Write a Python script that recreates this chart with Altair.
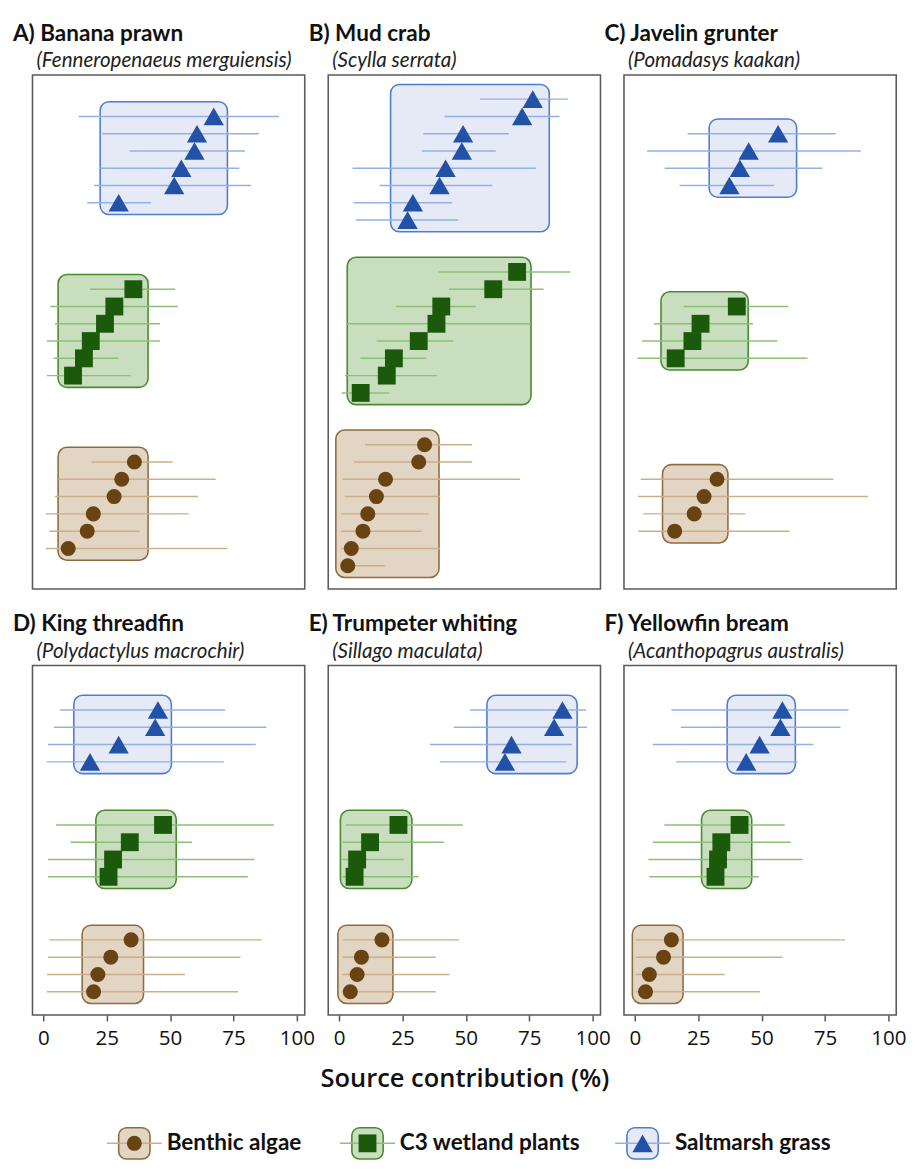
import altair as alt
import pandas as pd

SOURCES = ["Saltmarsh grass", "C3 wetland plants", "Benthic algae"]
LEGEND_ORDER = ["Benthic algae", "C3 wetland plants", "Saltmarsh grass"]
MARKER_COLORS = ["#2152a8", "#1c5a0b", "#6a4312"]
LINE_COLORS = ["#93b1e3", "#8cc076", "#cbaf8a"]
BOX_FILLS = ["#e5eaf6", "#c9ddbf", "#e3d5c3"]
BOX_STROKES = ["#4f7dcd", "#4a8a30", "#8e6c40"]
SHAPES = ["triangle-up", "square", "circle"]
SIZES = [430, 235, 250]
LEGEND_SIZES = [480, 400, 380]

# ---- Panel A: Banana prawn (values top to bottom) ----
A_SALT = [67.2, 60.6, 59.6, 54.4, 51.6, 29.7]
A_SALT_LO = [13.9, 23.2, 34.0, 22.0, 20.0, 17.3]
A_SALT_HI = [93.0, 85.0, 79.5, 77.3, 82.0, 42.4]
A_C3 = [35.5, 28.0, 24.3, 18.7, 16.0, 11.7]
A_C3_LO = [18.5, 2.7, 4.6, 1.4, 4.0, 1.4]
A_C3_HI = [52.0, 53.0, 46.0, 46.0, 29.6, 34.4]
A_BA = [35.9, 30.9, 27.9, 19.7, 17.3, 9.8]
A_BA_LO = [19.0, 5.9, 4.6, 0.9, 2.3, 0.9]
A_BA_HI = [51.0, 68.0, 61.0, 57.3, 38.0, 72.6]
A_BOX_LO = [22.4, 5.8, 5.8]
A_BOX_HI = [72.6, 41.3, 41.3]

# ---- Panel B: Mud crab ----
B_SALT = [76.4, 72.2, 48.9, 48.4, 42.0, 39.6, 29.1, 27.0]
B_SALT_LO = [55.5, 41.6, 33.2, 32.7, 5.3, 16.0, 5.7, 6.6]
B_SALT_HI = [90.2, 87.0, 66.9, 61.8, 77.7, 60.4, 44.5, 47.0]
B_C3 = [70.2, 60.8, 40.3, 38.4, 31.4, 21.6, 18.8, 8.5]
B_C3_LO = [39.1, 43.4, 22.4, 2.8, 14.8, 8.4, 2.3, 1.0]
B_C3_HI = [91.2, 80.6, 53.9, 75.7, 45.0, 34.4, 38.5, 19.8]
B_BA = [33.7, 31.4, 18.3, 14.7, 11.3, 9.4, 4.8, 3.4]
B_BA_LO = [10.2, 5.9, 1.3, 2.2, 0.8, 0.8, 0.8, 0.8]
B_BA_HI = [52.5, 52.5, 71.3, 39.9, 35.3, 32.5, 39.9, 18.0]
B_BOX_LO = [20.3, 3.2, -1.3]
B_BOX_HI = [82.9, 75.7, 39.4]

# ---- Panel C: Javelin grunter ----
C_SALT = [56.5, 44.9, 41.4, 37.3]
C_SALT_LO = [20.8, 4.8, 11.8, 17.6]
C_SALT_HI = [79.2, 89.1, 74.0, 55.0]
C_C3 = [40.2, 25.9, 22.7, 16.1]
C_C3_LO = [19.3, 7.5, 2.8, 1.0]
C_C3_HI = [60.5, 46.6, 56.2, 68.1]
C_BA = [32.4, 27.3, 23.4, 15.7]
C_BA_LO = [2.3, 1.3, 3.2, 1.3]
C_BA_HI = [78.3, 91.9, 43.7, 61.0]
C_BOX_LO = [29.3, 10.3, 10.9]
C_BOX_HI = [63.8, 44.7, 36.7]

# ---- Panel D: King threadfin ----
D_SALT = [45.2, 44.1, 29.7, 18.4]
D_SALT_LO = [6.6, 4.2, 1.8, 1.4]
D_SALT_HI = [71.7, 88.0, 83.8, 71.2]
D_C3 = [47.2, 34.1, 27.5, 25.7]
D_C3_LO = [5.0, 10.7, 1.8, 1.8]
D_C3_HI = [90.9, 58.6, 83.3, 80.6]
D_BA = [34.6, 26.6, 21.5, 19.8]
D_BA_LO = [2.3, 1.8, 1.4, 1.4]
D_BA_HI = [86.2, 77.7, 55.9, 76.8]
D_BOX_LO = [12.0, 20.7, 15.3]
D_BOX_HI = [50.5, 52.4, 39.5]

# ---- Panel E: Trumpeter whiting ----
E_SALT = [88.1, 84.8, 68.0, 65.4]
E_SALT_LO = [51.7, 45.2, 35.8, 39.7]
E_SALT_HI = [97.4, 97.8, 91.8, 89.6]
E_C3 = [23.4, 12.2, 7.1, 6.1]
E_C3_LO = [2.7, 1.3, 1.3, 1.3]
E_C3_HI = [48.8, 41.3, 25.5, 31.4]
E_BA = [16.9, 8.8, 7.1, 4.4]
E_BA_LO = [1.5, 1.3, 1.3, 1.3]
E_BA_HI = [47.4, 38.1, 43.6, 38.1]
E_BOX_LO = [58.3, 0.5, -0.5]
E_BOX_HI = [93.9, 28.7, 21.2]

# ---- Panel F: Yellowfin bream ----
F_SALT = [58.2, 57.4, 49.2, 43.9]
F_SALT_LO = [14.4, 18.1, 7.1, 16.3]
F_SALT_HI = [84.3, 81.1, 70.4, 64.2]
F_C3 = [41.3, 34.1, 32.8, 31.8]
F_C3_LO = [11.6, 7.1, 5.3, 5.7]
F_C3_HI = [59.1, 61.5, 66.1, 48.9]
F_BA = [14.4, 11.3, 5.7, 4.2]
F_BA_LO = [0.3, 0.3, 0.3, 0.3]
F_BA_HI = [82.9, 58.2, 35.4, 49.4]
F_BOX_LO = [36.4, 26.3, -1.0]
F_BOX_HI = [63.3, 46.1, 19.0]

TICKS = [0, 25, 50, 75, 100]
X_DOMAIN = [-4.3, 103.1]
ROW1_Y = [-2.4, 27.35]
ROW2_Y = [-1.58, 18.65]
ROW1_CENTERS = [2.5, 12.5, 22.5]
ROW2_CENTERS = [2.5, 9.15, 15.8]
PANEL_W = 278
ROW1_H = 525
ROW2_H = 357


def frames(mids, los, his, blo, bhi, centers):
    pts, boxes = [], []
    for s, src in enumerate(SOURCES):
        n = len(mids[s])
        slots = [centers[s] + i - (n - 1) / 2 for i in range(n)]
        for i in range(n):
            pts.append({"source": src, "mid": mids[s][i], "lo": los[s][i],
                        "hi": his[s][i], "slot": slots[i]})
        boxes.append({"source": src, "box_lo": blo[s], "box_hi": bhi[s],
                      "top": slots[0], "bottom": slots[-1]})
    return pd.DataFrame(pts), pd.DataFrame(boxes)


def panel(name, latin, mids, los, his, blo, bhi, row, axis_title=None, show_axis=False):
    centers = ROW1_CENTERS if row == 1 else ROW2_CENTERS
    ydom = ROW1_Y if row == 1 else ROW2_Y
    height = ROW1_H if row == 1 else ROW2_H
    data, box = frames(mids, los, his, blo, bhi, centers)
    xs = alt.Scale(domain=X_DOMAIN, nice=False, zero=False)
    ys = alt.Scale(domain=ydom, nice=False, zero=False, reverse=True)
    if show_axis:
        xaxis = alt.Axis(values=TICKS, title=axis_title, grid=False, domain=False,
                         ticks=True, tickSize=6, tickWidth=1.5, tickColor="#555555",
                         labelFont="Open Sans", labelFontSize=21, labelColor="#111111",
                         labelPadding=7, labelFlush=False,
                         titleFont="Open Sans", titleFontSize=26, titleFontWeight=600,
                         titleColor="#111111", titlePadding=18)
    else:
        xaxis = None
    rect = alt.Chart(box).mark_rect(cornerRadius=9, strokeWidth=1.6,
                                    yOffset=-15, y2Offset=12).encode(
        x=alt.X("box_lo:Q", scale=xs, axis=xaxis),
        x2="box_hi:Q",
        y=alt.Y("top:Q", scale=ys, axis=None),
        y2="bottom:Q",
        fill=alt.Fill("source:N", scale=alt.Scale(domain=SOURCES, range=BOX_FILLS), legend=None),
        stroke=alt.Stroke("source:N", scale=alt.Scale(domain=SOURCES, range=BOX_STROKES), legend=None),
    )
    rules = alt.Chart(data).mark_rule(strokeWidth=1.5).encode(
        x=alt.X("lo:Q", scale=xs, axis=xaxis),
        x2="hi:Q",
        y=alt.Y("slot:Q", scale=ys, axis=None),
        color=alt.Color("source:N", scale=alt.Scale(domain=SOURCES, range=LINE_COLORS), legend=None),
    )
    points = alt.Chart(data).mark_point(filled=True, opacity=1).encode(
        x=alt.X("mid:Q", scale=xs, axis=xaxis),
        y=alt.Y("slot:Q", scale=ys, axis=None),
        shape=alt.Shape("source:N", scale=alt.Scale(domain=SOURCES, range=SHAPES), legend=None),
        color=alt.Color("source:N", scale=alt.Scale(domain=SOURCES, range=MARKER_COLORS), legend=None),
        size=alt.Size("source:O", scale=alt.Scale(domain=SOURCES, range=SIZES), legend=None),
    )
    title = alt.Title(text=name, subtitle="\u200b\u2003\u2002(" + latin + ")", anchor="start",
                      frame="group", dx=-20, offset=4, font="Lato", fontSize=23,
                      fontWeight="bold", color="#111111", subtitleFont="Lato",
                      subtitleFontSize=21, subtitleFontStyle="italic",
                      subtitleColor="#222222", subtitlePadding=5)
    return alt.layer(rect, rules, points).resolve_scale(color="independent").properties(
        width=PANEL_W, height=height, title=title)


pA = panel("A) Banana prawn", "Fenneropenaeus merguiensis",
           [A_SALT, A_C3, A_BA], [A_SALT_LO, A_C3_LO, A_BA_LO], [A_SALT_HI, A_C3_HI, A_BA_HI],
           A_BOX_LO, A_BOX_HI, 1)
pB = panel("B) Mud crab", "Scylla serrata",
           [B_SALT, B_C3, B_BA], [B_SALT_LO, B_C3_LO, B_BA_LO], [B_SALT_HI, B_C3_HI, B_BA_HI],
           B_BOX_LO, B_BOX_HI, 1)
pC = panel("C) Javelin grunter", "Pomadasys kaakan",
           [C_SALT, C_C3, C_BA], [C_SALT_LO, C_C3_LO, C_BA_LO], [C_SALT_HI, C_C3_HI, C_BA_HI],
           C_BOX_LO, C_BOX_HI, 1)
pD = panel("D) King threadfin", "Polydactylus macrochir",
           [D_SALT, D_C3, D_BA], [D_SALT_LO, D_C3_LO, D_BA_LO], [D_SALT_HI, D_C3_HI, D_BA_HI],
           D_BOX_LO, D_BOX_HI, 2, None, True)
pE = panel("E) Trumpeter whiting", "Sillago maculata",
           [E_SALT, E_C3, E_BA], [E_SALT_LO, E_C3_LO, E_BA_LO], [E_SALT_HI, E_C3_HI, E_BA_HI],
           E_BOX_LO, E_BOX_HI, 2, "Source contribution (%)", True)
pF = panel("F) Yellowfin bream", "Acanthopagrus australis",
           [F_SALT, F_C3, F_BA], [F_SALT_LO, F_C3_LO, F_BA_LO], [F_SALT_HI, F_C3_HI, F_BA_HI],
           F_BOX_LO, F_BOX_HI, 2, None, True)

# ---- custom legend: items laid out one after another, like a horizontal legend ----
LEG_START = 104      # first symbol centre, px from the legend's left edge
LEG_CHAR_W = 10.7    # approx. label width per character
LEG_GAP = 99         # symbol + spacing between items
leg_pos = [LEG_START]
for lab in LEGEND_ORDER[:-1]:
    leg_pos.append(leg_pos[-1] + len(lab) * LEG_CHAR_W + LEG_GAP)
leg = pd.DataFrame({"source": LEGEND_ORDER, "pos": leg_pos})
LEG_W = PANEL_W * 3 + 48
lx = alt.Scale(domain=[0, LEG_W], range=[0, LEG_W])
lx_enc = alt.X("pos:Q", scale=lx, axis=None)
LEG_Y = 20
leg_rule = alt.Chart(leg).mark_rule(strokeWidth=1.5, xOffset=-28, x2Offset=28).encode(
    x=lx_enc, x2="pos:Q", y=alt.value(LEG_Y),
    color=alt.Color("source:N", scale=alt.Scale(domain=SOURCES, range=LINE_COLORS), legend=None))
leg_rect = alt.Chart(leg).mark_rect(cornerRadius=8, strokeWidth=1.6, xOffset=-16, x2Offset=16).encode(
    x=lx_enc, x2="pos:Q", y=alt.value(LEG_Y - 16), y2=alt.value(LEG_Y + 16),
    fill=alt.Fill("source:N", scale=alt.Scale(domain=SOURCES, range=BOX_FILLS), legend=None),
    stroke=alt.Stroke("source:N", scale=alt.Scale(domain=SOURCES, range=BOX_STROKES), legend=None))
leg_pts = alt.Chart(leg).mark_point(filled=True, opacity=1).encode(
    x=lx_enc, y=alt.value(LEG_Y),
    shape=alt.Shape("source:N", scale=alt.Scale(domain=SOURCES, range=SHAPES), legend=None),
    color=alt.Color("source:N", scale=alt.Scale(domain=SOURCES, range=MARKER_COLORS), legend=None),
    size=alt.Size("source:O", scale=alt.Scale(domain=SOURCES, range=LEGEND_SIZES), legend=None))
leg_txt = alt.Chart(leg).mark_text(align="left", baseline="middle", dx=33, font="Lato",
                                   fontSize=23, fontWeight="bold", color="#111111").encode(
    x=lx_enc, y=alt.value(LEG_Y), text="source:N")
legend = alt.layer(leg_rect, leg_rule, leg_pts, leg_txt).resolve_scale(color="independent").properties(
    width=LEG_W, height=40, view=alt.ViewBackground(strokeOpacity=0))

grid = alt.concat(pA, pB, pC, pD, pE, pF, columns=3,
                  spacing={"row": 78, "column": 24}, bounds="flush")
chart = alt.vconcat(grid, legend, spacing=32).properties(
    padding={"left": 4, "top": 2, "right": 0, "bottom": 0}
).configure_view(stroke="#5a5a5a", strokeWidth=1.6)

chart.save("out.html", embed_options={"renderer": "svg", "actions": False})
